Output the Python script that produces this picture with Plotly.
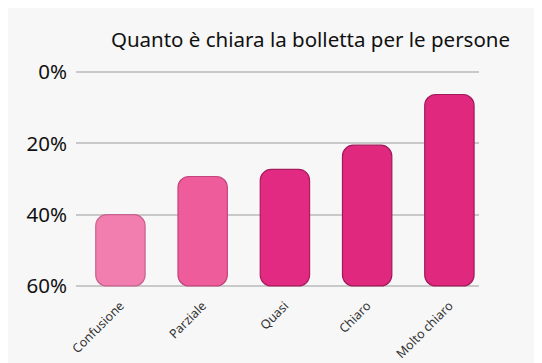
import plotly.graph_objects as go

categories = ["Confusione", "Parziale", "Quasi", "Chiaro", "Molto chiaro"]
values = [40, 29.3, 27.3, 20.5, 6.3]
fill_colors = ["#F27DAF", "#EE5C9C", "#E22A82", "#E0287F", "#E0287F"]
line_colors = ["#C8628F", "#C4447C", "#A81D5E", "#A01A59", "#A01A59"]
tick_vals = [0, 20, 40, 60]
tick_text = ["0%", "20%", "40%", "60%"]
title_text = "Quanto è chiara la bolletta per le persone"

base_val = 60
fig = go.Figure(go.Bar(
    x=categories,
    y=[v - base_val for v in values],
    base=[base_val] * len(values),
    width=0.6,
    marker=dict(color=fill_colors, line=dict(color=line_colors, width=1.2), cornerradius=11),
    hoverinfo="skip",
))

fig.update_layout(
    width=542, height=363,
    margin=dict(l=68, r=71, t=63, b=84),
    paper_bgcolor="#F7F7F7", plot_bgcolor="#F7F7F7",
    showlegend=False,
    font=dict(family="Noto Sans", color="#111111"),
    title=dict(text=title_text, font=dict(size=20.5, color="#111111"),
               x=0.5581, xanchor="center", y=0.912, yanchor="middle"),
)
fig.update_xaxes(range=[-0.54, 4.36], tickangle=-45, tickfont=dict(size=12.5, color="#333333"),
                 showgrid=False, zeroline=False, showline=False, ticks="", ticklabelstandoff=8,
                 automargin=False)
fig.update_yaxes(range=[60.3, -0.3], tickvals=tick_vals, ticktext=tick_text,
                 tickfont=dict(size=20.5, color="#111111"), gridcolor="#C9C9C9", gridwidth=1.5,
                 zeroline=False, showline=False, ticks="", ticklabelstandoff=8, automargin=False)

fig.write_html("out.html")
